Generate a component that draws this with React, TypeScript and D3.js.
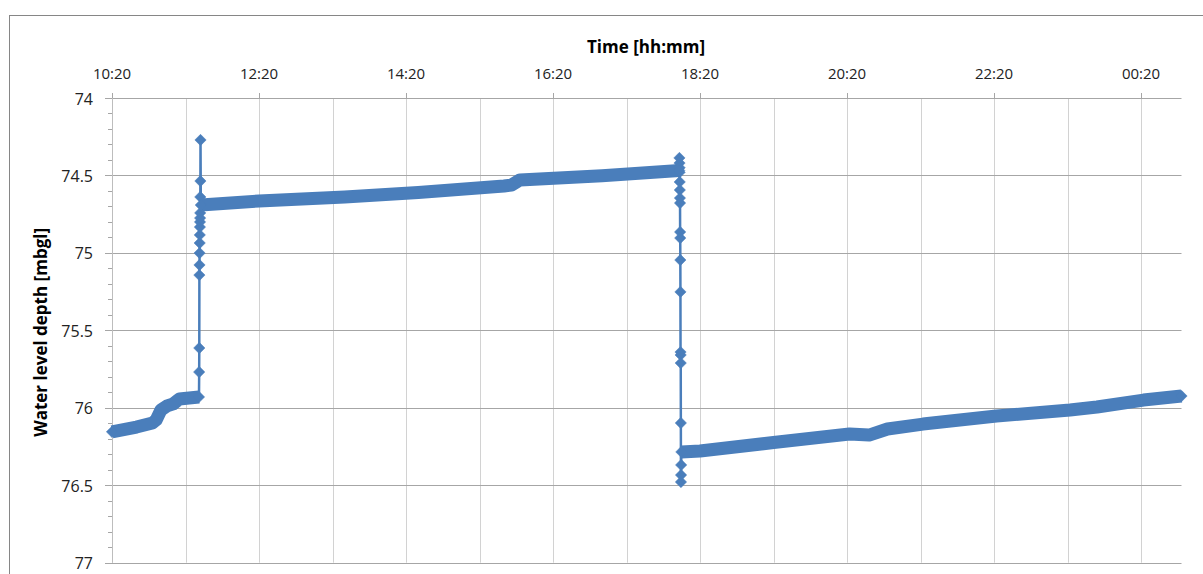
import React from "react";
import * as d3 from "d3";

// ---- Axis data ----
const X_TICK_LABELS = ["10:20", "12:20", "14:20", "16:20", "18:20", "20:20", "22:20", "00:20"];
const X_DOMAIN = ["10:20:00", "00:53:00"];
const Y_TICKS = [74, 74.5, 75, 75.5, 76, 76.5, 77];
const Y_DOMAIN = [74, 77];

// ---- Series: water level depth [mbgl] ----
const phase1Times = ["10:20:00", "10:40:00", "10:53:00", "10:56:00", "11:00:00", "11:05:00", "11:10:00", "11:15:00", "11:31:00"];
const phase1Depths = [76.155, 76.124, 76.098, 76.079, 76.014, 75.988, 75.975, 75.943, 75.93];

const jump1Times = ["11:31:10", "11:31:15", "11:31:20", "11:31:25", "11:31:30", "11:31:35", "11:31:40", "11:31:45", "11:31:50", "11:31:55", "11:32:00", "11:32:05", "11:32:10", "11:32:15"];
const jump1Depths = [75.769, 75.614, 75.143, 75.078, 75.001, 74.936, 74.884, 74.833, 74.8, 74.775, 74.742, 74.639, 74.536, 74.271];

const phase2Times = ["11:32:30", "12:20:00", "13:30:00", "14:30:00", "15:40:00", "15:46:00", "15:53:00", "17:00:00", "18:03:00"];
const phase2Depths = [74.691, 74.665, 74.639, 74.61, 74.568, 74.562, 74.529, 74.502, 74.468];

const jump2Times = ["18:03:10", "18:03:15", "18:03:18", "18:03:20", "18:03:25", "18:03:30", "18:03:35", "18:03:40", "18:03:45", "18:03:50", "18:03:55", "18:04:00", "18:04:05", "18:04:10", "18:04:15", "18:04:20", "18:04:25", "18:04:30", "18:04:35"];
const jump2Depths = [74.387, 74.42, 74.45, 74.48, 74.542, 74.594, 74.646, 74.678, 74.865, 74.904, 75.046, 75.252, 75.64, 75.659, 75.711, 76.098, 76.479, 76.434, 76.369];

const phase3Times = ["18:04:45", "18:20:00", "19:20:00", "20:22:00", "20:38:00", "20:53:00", "21:22:00", "22:22:00", "23:22:00", "23:44:00", "00:22:00", "00:53:00"];
const phase3Depths = [76.285, 76.279, 76.224, 76.169, 76.176, 76.137, 76.105, 76.053, 76.014, 75.995, 75.95, 75.924];

type Pt = { t: Date; v: number };

function parseTime(s: string): Date {
  const parts = s.split(":").map(Number);
  const h = parts[0];
  const m = parts[1];
  const sec = parts[2] || 0;
  const day = h < 10 ? 2 : 1; // after midnight -> next day
  return new Date(2000, 0, day, h, m, sec);
}

function toPts(times: string[], depths: number[]): Pt[] {
  return times.map((t, i) => ({ t: parseTime(t), v: depths[i] }));
}

const COLOR = "#4a7ebb";
const FONT = "'Open Sans', 'Liberation Sans', sans-serif";

export default function App() {
  const W = 1203;
  const H = 574;
  const left = 112;
  const right = 1181.5;
  const top = 98;
  const bottom = 562.7;

  const x = d3
    .scaleTime()
    .domain([parseTime(X_DOMAIN[0]), parseTime(X_DOMAIN[1])])
    .range([left, right]);
  const y = d3.scaleLinear().domain(Y_DOMAIN).range([top, bottom]);

  const phases = [
    toPts(phase1Times, phase1Depths),
    toPts(phase2Times, phase2Depths),
    toPts(phase3Times, phase3Depths),
  ];
  const jumps = [toPts(jump1Times, jump1Depths), toPts(jump2Times, jump2Depths)];
  const all: Pt[] = [...phases[0], ...jumps[0], ...phases[1], ...jumps[1], ...phases[2]];

  const line = d3
    .line<Pt>()
    .x((d) => x(d.t))
    .y((d) => y(d.v));

  const hourGrid = d3.timeMinute.range(x.domain()[0], x.domain()[1], 60);
  const minorY = y.ticks(30);
  const diamond = d3.symbol().type(d3.symbolSquare).size(64)() as string;

  const markerPts: Pt[] = [
    ...jumps[0],
    ...jumps[1],
    ...phases.flatMap((p) => [p[0], p[p.length - 1]]),
  ];

  return (
    <svg
      width={W}
      height={H}
      style={{ position: "absolute", left: 0, top: 0, background: "#fff" }}
    >
      <rect x={9.5} y={15.5} width={1220} height={600} fill="#fff" stroke="#868686" strokeWidth={1} />

      {/* vertical (hourly) gridlines */}
      {hourGrid.map((d, i) => (
        <line
          key={"vg" + i}
          x1={Math.round(x(d)) + 0.5}
          x2={Math.round(x(d)) + 0.5}
          y1={top}
          y2={bottom}
          stroke="#d2d2d2"
          strokeWidth={1}
        />
      ))}

      {/* horizontal gridlines + major y ticks */}
      {Y_TICKS.map((v) => (
        <line
          key={"hg" + v}
          x1={105}
          x2={right}
          y1={Math.round(y(v)) + 0.5}
          y2={Math.round(y(v)) + 0.5}
          stroke="#a6a6a6"
          strokeWidth={1}
        />
      ))}

      {/* y axis line and minor ticks */}
      <line x1={left + 0.5} x2={left + 0.5} y1={top} y2={bottom} stroke="#bdbdbd" strokeWidth={1} />
      {minorY.map((v) => (
        <line
          key={"my" + v}
          x1={108}
          x2={left}
          y1={Math.round(y(v)) + 0.5}
          y2={Math.round(y(v)) + 0.5}
          stroke="#a6a6a6"
          strokeWidth={1}
        />
      ))}

      {/* x axis (top) major ticks */}
      {X_TICK_LABELS.map((lab) => {
        const xx = Math.round(x(parseTime(lab))) + 0.5;
        return <line key={"xt" + lab} x1={xx} x2={xx} y1={93} y2={top} stroke="#a6a6a6" strokeWidth={1} />;
      })}

      {/* x tick labels */}
      {X_TICK_LABELS.map((lab) => (
        <text
          key={"xl" + lab}
          x={x(parseTime(lab))}
          y={78.5}
          textAnchor="middle"
          fontFamily={FONT}
          fontSize={15}
          fill="#222"
        >
          {lab}
        </text>
      ))}

      {/* y tick labels */}
      {Y_TICKS.map((v) => (
        <text
          key={"yl" + v}
          x={93}
          y={y(v) + 6.5}
          textAnchor="end"
          fontFamily={FONT}
          fontSize={16}
          fill="#222"
        >
          {v}
        </text>
      ))}

      {/* axis titles */}
      <text x={646} y={53} textAnchor="middle" fontFamily={FONT} fontWeight="bold" fontSize={17} fill="#000">
        Time [hh:mm]
      </text>
      <text
        transform={`translate(47,${(top + bottom) / 2 + 2}) rotate(-90)`}
        textAnchor="middle"
        fontFamily={FONT}
        fontWeight="bold"
        fontSize={17}
        fill="#000"
      >
        Water level depth [mbgl]
      </text>

      {/* data: thin connecting line */}
      <path d={line(all) || ""} fill="none" stroke={COLOR} strokeWidth={2.5} strokeLinejoin="round" />
      {/* dense logging band (overlapping markers) */}
      {phases.map((p, i) => (
        <path
          key={"band" + i}
          d={line(p) || ""}
          fill="none"
          stroke={COLOR}
          strokeWidth={13}
          strokeLinejoin="round"
          strokeLinecap="butt"
        />
      ))}
      {/* markers */}
      {markerPts.map((d, i) => (
        <path
          key={"m" + i}
          d={diamond}
          transform={`translate(${x(d.t)},${y(d.v)}) rotate(45)`}
          fill={COLOR}
          stroke={COLOR}
          strokeWidth={0.5}
        />
      ))}
    </svg>
  );
}
